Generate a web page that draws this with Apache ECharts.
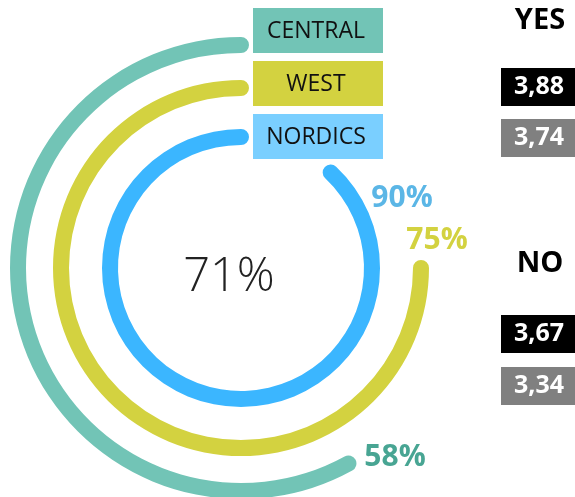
<!DOCTYPE html>
<html>
<head>
<meta charset="utf-8">
<style>
  html, body { margin: 0; padding: 0; background: #fff; }
  #chart { width: 575px; height: 497px; }
</style>
<script src="https://cdn.jsdelivr.net/npm/echarts@6/dist/echarts.min.js"></script>
</head>
<body>
<div id="chart"></div>
<script>
(function () {
  'use strict';

  // regions, outer ring first
  var regions = ['CENTRAL', 'WEST', 'NORDICS'];
  var arcValues = [58, 75, 88];
  var pctLabels = ['58%', '75%', '90%'];
  var ringRadius = [223, 180, 131];
  var ringColors = ['#72c4b6', '#d3d240', '#3bb6ff'];
  var boxColors = ['#72c4b6', '#d3d240', '#7acfff'];
  var pctColors = ['#48a593', '#d3d240', '#5bb6e6'];
  var pctPos = [[395, 457], [437, 240], [402, 198]];

  var centerLabel = '71%';
  var yesValues = ['3,88', '3,74'];
  var noValues = ['3,67', '3,34'];

  var cx = 241, cy = 268, half = 8;
  var font = '"Open Sans", "Noto Sans", sans-serif';

  var polar = [], angleAxis = [], radiusAxis = [], series = [];
  regions.forEach(function (name, i) {
    polar.push({ center: [cx, cy], radius: [ringRadius[i] - half, ringRadius[i] + half] });
    angleAxis.push({ polarIndex: i, type: 'value', min: 0, max: 100, startAngle: 90, clockwise: false, show: false });
    radiusAxis.push({ polarIndex: i, type: 'category', data: [name], show: false });
    series.push({
      type: 'bar',
      name: name,
      coordinateSystem: 'polar',
      polarIndex: i,
      barWidth: '100%',
      roundCap: true,
      itemStyle: { color: ringColors[i] },
      data: [arcValues[i]]
    });
  });

  var graphic = [];

  // legend boxes next to the rings
  regions.forEach(function (name, i) {
    var top = [8, 61, 114][i];
    graphic.push({
      type: 'rect', left: 253, top: top,
      shape: { width: 130, height: 45 },
      style: { fill: boxColors[i] }
    });
    graphic.push({
      type: 'text', x: 316, y: top + 23,
      style: { text: name, font: '23px ' + font, fill: '#111', align: 'center', verticalAlign: 'middle' }
    });
  });

  pctLabels.forEach(function (t, i) {
    graphic.push({
      type: 'text', x: pctPos[i][0], y: pctPos[i][1],
      style: { text: t, font: 'bold 30px ' + font, fill: pctColors[i], align: 'center', verticalAlign: 'middle' }
    });
  });

  graphic.push({
    type: 'text', x: 229, y: 278,
    style: { text: centerLabel, font: '300 47px ' + font, fill: '#222', align: 'center', verticalAlign: 'middle' }
  });

  function scoreBlock(title, vals, titleY, boxTops) {
    graphic.push({
      type: 'text', x: 540, y: titleY,
      style: { text: title, font: 'bold 29px ' + font, fill: '#000', align: 'center', verticalAlign: 'middle' }
    });
    vals.forEach(function (v, i) {
      graphic.push({
        type: 'rect', left: 501, top: boxTops[i],
        shape: { width: 74, height: 38 },
        style: { fill: i === 0 ? '#000' : '#808080' }
      });
      graphic.push({
        type: 'text', x: 539, y: boxTops[i] + 19,
        style: { text: v, font: 'bold 25px ' + font, fill: '#fff', align: 'center', verticalAlign: 'middle' }
      });
    });
  }
  scoreBlock('YES', yesValues, 21, [68, 119]);
  scoreBlock('NO', noValues, 264, [315, 367]);

  var myChart = echarts.init(document.getElementById('chart'));
  myChart.setOption({
    animation: false,
    polar: polar,
    angleAxis: angleAxis,
    radiusAxis: radiusAxis,
    series: series,
    graphic: graphic
  });
})();
</script>
</body>
</html>
